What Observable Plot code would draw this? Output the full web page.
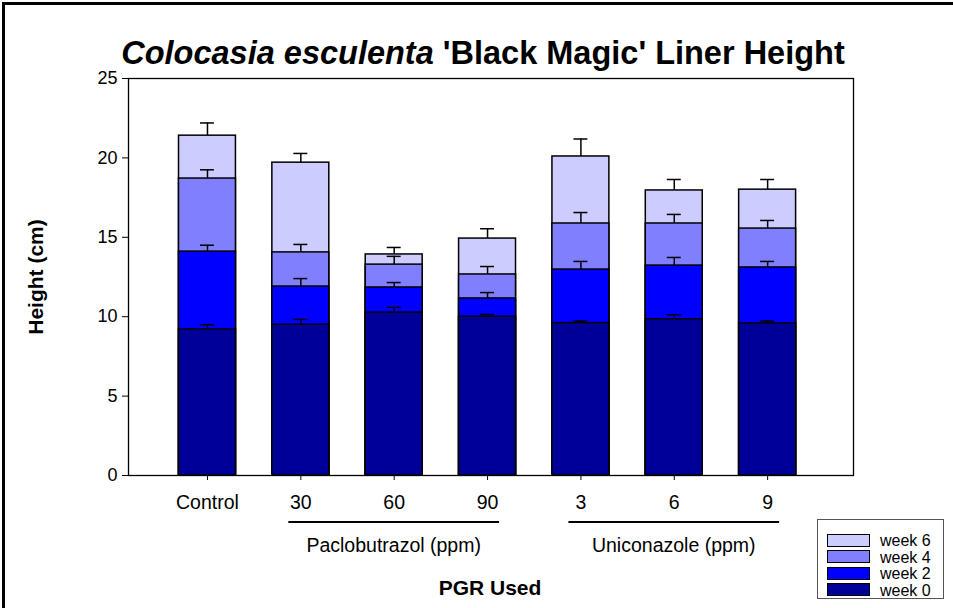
<!DOCTYPE html>
<html><head><meta charset="utf-8">
<script src="https://cdn.jsdelivr.net/npm/d3@7"></script>
<script src="https://cdn.jsdelivr.net/npm/@observablehq/plot@0.6"></script>
<style>
body{margin:0;background:#fff;font-family:"Liberation Sans",Arial,sans-serif;color:#000;}
#wrap{position:relative;width:953px;height:608px;overflow:hidden;background:#fff;}
#wrap svg{position:absolute;left:0;top:0;}
.abs{position:absolute;white-space:nowrap;}
#border{position:absolute;left:2px;top:2px;width:2000px;height:2000px;border-top:3px solid #000;border-left:3px solid #000;}
#title{left:0;width:966px;top:35px;text-align:center;font-weight:bold;font-size:32.5px;line-height:36px;}
#ylab{left:36px;top:277px;font-weight:bold;font-size:21px;transform:translate(-50%,-50%) rotate(-90deg);}
#xlab{left:0;width:980px;top:576px;text-align:center;font-weight:bold;font-size:21px;}
#legend{left:817px;top:519px;width:127px;height:80px;border:1px solid #555;box-sizing:border-box;}
.lrow{position:absolute;left:9px;height:16px;font-size:16px;line-height:16px;}
.sw{display:inline-block;width:41px;height:11px;border:1px solid #000;vertical-align:middle;margin-right:10px;margin-top:-3px;}
</style></head><body>
<div id="wrap"><div id="border"></div></div>
<script>
// ---- data ----
const treatments = ["Control", "30", "60", "90", "3", "6", "9"];
const weeks = ["week 0", "week 2", "week 4", "week 6"];
const weekColors = ["#000099", "#0000FF", "#8080FF", "#CCCCFF"];
const week0 = [9.2, 9.5, 10.26, 10.0, 9.6, 9.84, 9.57];
const week0Err = [0.3, 0.33, 0.33, 0.14, 0.13, 0.28, 0.16];
const week2 = [14.1, 11.9, 11.84, 11.15, 12.97, 13.22, 13.1];
const week2Err = [0.4, 0.5, 0.31, 0.37, 0.51, 0.51, 0.38];
const week4 = [18.7, 14.05, 13.28, 12.66, 15.87, 15.87, 15.55];
const week4Err = [0.55, 0.5, 0.52, 0.5, 0.69, 0.57, 0.51];
const week6 = [21.4, 19.7, 13.92, 14.92, 20.09, 17.95, 18.0];
const week6Err = [0.8, 0.58, 0.44, 0.62, 1.1, 0.69, 0.64];
const yTicks = [0, 5, 10, 15, 20, 25];
const groups = [
  {label: "Paclobutrazol (ppm)", from: "30", to: "90"},
  {label: "Uniconazole (ppm)", from: "3", to: "9"}
];

const series = [week0, week2, week4, week6];
const errs = [week0Err, week2Err, week4Err, week6Err];
const rows = [];
// back to front: week 6 first so shorter bars overlay it
for (let w = weeks.length - 1; w >= 0; w--) {
  treatments.forEach((t, i) => rows.push({treatment: t, week: weeks[w], height: series[w][i], err: errs[w][i]}));
}

const plot = Plot.plot({
  width: 953, height: 608,
  marginTop: 78, marginLeft: 128, marginRight: 100, marginBottom: 133,
  style: {fontFamily: "'Liberation Sans', Arial, sans-serif", fontSize: "18px", color: "#000", background: "transparent", overflow: "visible"},
  x: {domain: treatments, range: [178.5, 795.6], paddingInner: 0.39, paddingOuter: 0, round: false, label: null},
  y: {domain: [0, 25], label: null},
  color: {domain: weeks, range: weekColors},
  marks: [
    Plot.barY(rows, {x: "treatment", y1: 0, y2: "height", fill: "week", stroke: "#000", strokeWidth: 1.5}),
    Plot.ruleX(rows, {x: "treatment", y1: "height", y2: d => d.height + d.err, stroke: "#000", strokeWidth: 1.5}),
    Plot.tickY(rows, {x: "treatment", y: d => d.height + d.err, insetLeft: 21.5, insetRight: 21.5, stroke: "#000", strokeWidth: 1.5}),
    Plot.frame({stroke: "#000", strokeWidth: 1.3}),
    Plot.axisY({ticks: yTicks, tickSize: 6, tickPadding: 5, fontSize: 18, label: null, stroke: "#000"}),
    Plot.axisX({tickSize: 5, tickPadding: 15, fontSize: 19.5, label: null, stroke: "#000"})
  ]
});
const wrap = document.getElementById("wrap");
wrap.appendChild(plot);

// group underlines and labels, positioned through the x scale
const xs = plot.scale("x");
const bw = xs.bandwidth;
const svg = d3.select(plot);
groups.forEach(g => {
  const a = xs.apply(g.from) + bw / 2 - 12, b = xs.apply(g.to) + bw / 2 + 12;
  svg.append("line").attr("x1", a).attr("x2", b).attr("y1", 522).attr("y2", 522)
    .attr("stroke", "#000").attr("stroke-width", 2);
  svg.append("text").attr("x", (a + b) / 2).attr("y", 552).attr("text-anchor", "middle")
    .attr("font-size", 19.5).attr("font-family", "'Liberation Sans', Arial, sans-serif").text(g.label);
});

function addDiv(id, html) {
  const d = document.createElement("div");
  d.id = id; d.className = "abs"; d.innerHTML = html;
  wrap.appendChild(d);
  return d;
}
addDiv("title", "<i>Colocasia esculenta</i> 'Black Magic' Liner Height");
addDiv("ylab", "Height (cm)");
addDiv("xlab", "PGR Used");
const leg = addDiv("legend", "");
const legendOrder = weeks.slice().reverse();
legendOrder.forEach((w, i) => {
  const r = document.createElement("div");
  r.className = "lrow";
  r.style.top = (13 + i * 16.5) + "px";
  r.innerHTML = `<span class="sw" style="background:${weekColors[weeks.indexOf(w)]}"></span>${w}`;
  leg.appendChild(r);
});
</script>
</body></html>
